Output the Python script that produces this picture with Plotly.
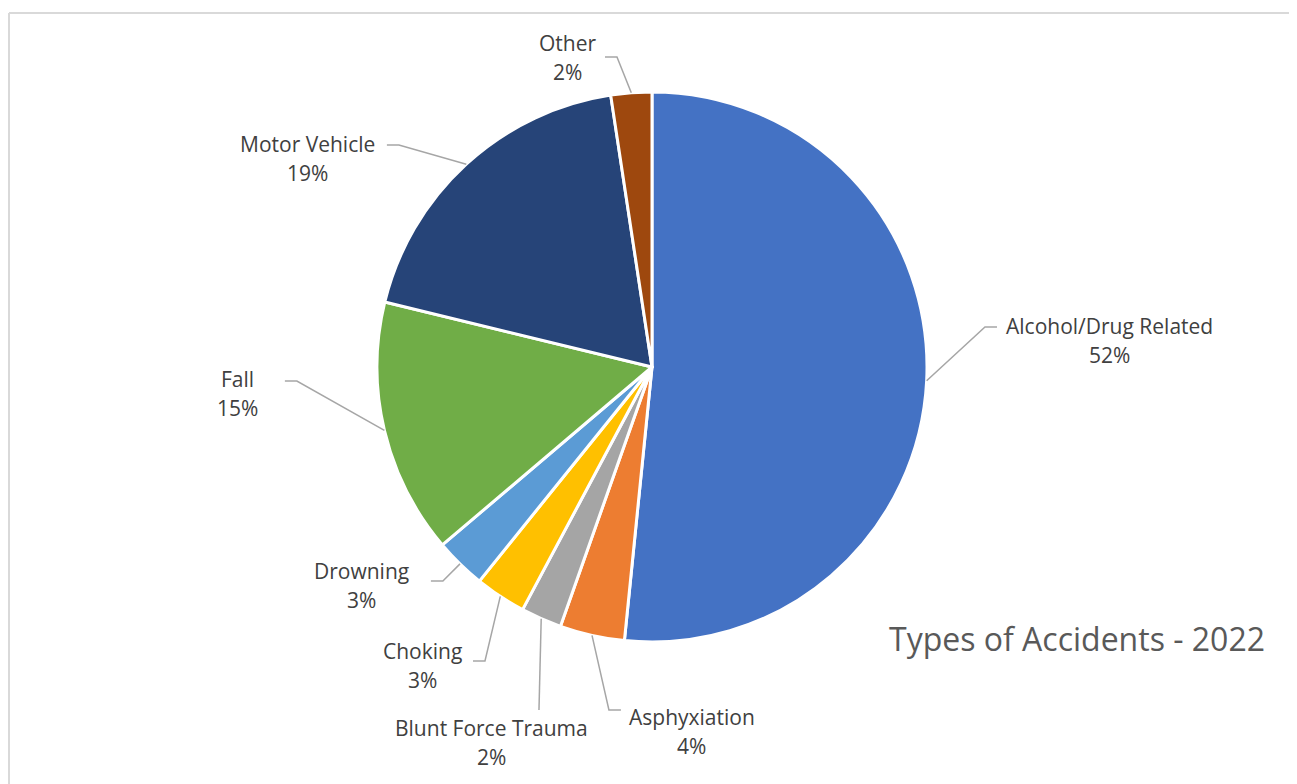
import math
import plotly.graph_objects as go

# ---- data ----
categories = ["Alcohol/Drug Related", "Asphyxiation", "Blunt Force Trauma", "Choking",
              "Drowning", "Fall", "Motor Vehicle", "Other"]
values = [51.6, 3.8, 2.4, 3.0, 3.0, 15.0, 18.8, 2.4]
title_text = "Types of Accidents - 2022"

# ---- styles ----
colors = ["#4472C4", "#ED7D31", "#A5A5A5", "#FFC000", "#5B9BD5", "#70AD47", "#264478", "#9E480E"]
W, H = 1297, 784
OFF = 8  # page body margin offset in px
CX, CY, R = 652 - OFF, 367 - OFF, 275  # pie center / radius in px (figure coords)
FONT = "Open Sans"
LABEL_COLOR = "#404040"
LINE_COLOR = "#A6A6A6"
LINE_SPACING = 29
LABEL_SIZE = 21

# label layout (in pie-radius units relative to the centre; y downward)
label_layout = {
    "Alcohol/Drug Related": dict(text=(1.665, -0.095), stub=(1.2545, -0.1455), d=1),
    "Asphyxiation": dict(text=(0.145, 1.324), stub=(-0.113, 1.247), d=1),
    "Blunt Force Trauma": dict(text=(-0.582, 1.364), stub=(-0.411, 1.247), d=0),
    "Choking": dict(text=(-0.836, 1.084), stub=(-0.651, 1.069), d=-1),
    "Drowning": dict(text=(-1.055, 0.793), stub=(-0.804, 0.778), d=-1),
    "Fall": dict(text=(-1.509, 0.098), stub=(-1.335, 0.051), d=-1),
    "Motor Vehicle": dict(text=(-1.251, -0.760), stub=(-0.964, -0.807), d=-1),
    "Other": dict(text=(-0.309, -1.127), stub=(-0.171, -1.127), d=-1),
}
STUB = 12  # px


def px2paper(x, y):
    return x / W, 1 - y / H


fig = go.Figure()
fig.add_trace(go.Pie(
    labels=categories,
    values=values,
    sort=False,
    direction="clockwise",
    rotation=0,
    marker=dict(colors=colors, line=dict(color="white", width=3)),
    textinfo="none",
    hoverinfo="label+percent",
    showlegend=False,
    domain=dict(x=[(CX - R) / W, (CX + R) / W], y=[1 - (CY + R) / H, 1 - (CY - R) / H]),
))

total = sum(values)
shapes = []
annotations = []
cum = 0.0
for cat, v in zip(categories, values):
    theta = 2 * math.pi * (cum + v / 2) / total
    cum += v
    ex, ey = CX + R * math.sin(theta), CY - R * math.cos(theta)
    lay = label_layout[cat]
    sx, sy = CX + lay["stub"][0] * R, CY + lay["stub"][1] * R
    bx = sx + (STUB if lay["d"] == -1 else (-STUB if lay["d"] == 1 else 0))
    pts = [px2paper(ex, ey), px2paper(bx, sy), px2paper(sx, sy)]
    path = "M {} {} L {} {} L {} {}".format(pts[0][0], pts[0][1], pts[1][0], pts[1][1], pts[2][0], pts[2][1])
    shapes.append(dict(type="path", path=path, xref="paper", yref="paper",
                       line=dict(color=LINE_COLOR, width=1.5)))
    tx, ty = CX + lay["text"][0] * R, CY + lay["text"][1] * R
    pct = "{:.0f}%".format(round(v / total * 100))
    for txt, yy in ((cat, ty - LINE_SPACING / 2), (pct, ty + LINE_SPACING / 2)):
        px_, py_ = px2paper(tx, yy)
        annotations.append(dict(text=txt, x=px_, y=py_, xref="paper", yref="paper",
                                xanchor="center", yanchor="middle", showarrow=False,
                                font=dict(family=FONT, size=LABEL_SIZE, color=LABEL_COLOR)))

# chart title
tx, ty = px2paper(1077 - OFF, 638 - OFF)
annotations.append(dict(text=title_text, x=tx, y=ty, xref="paper", yref="paper",
                        xanchor="center", yanchor="middle", showarrow=False,
                        font=dict(family=FONT, size=32, color="#595959")))

# chart frame (top and left edges visible)
fx, fy = 9 - OFF, 13 - OFF
shapes.append(dict(type="line", xref="paper", yref="paper", x0=fx / W, x1=1, y0=1 - fy / H, y1=1 - fy / H,
                   line=dict(color="#D9D9D9", width=2)))
shapes.append(dict(type="line", xref="paper", yref="paper", x0=fx / W, x1=fx / W, y0=0, y1=1 - fy / H,
                   line=dict(color="#D9D9D9", width=2)))

fig.update_layout(
    width=W, height=H,
    margin=dict(l=0, r=0, t=0, b=0),
    paper_bgcolor="white", plot_bgcolor="white",
    shapes=shapes, annotations=annotations,
)
fig.write_html("out.html")
